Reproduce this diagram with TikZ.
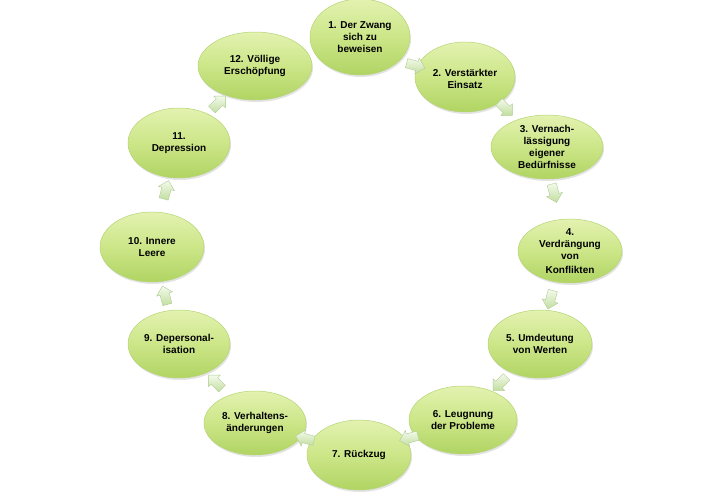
\documentclass[tikz,border=0pt]{standalone}
\usepackage{fontspec}
\setmainfont{Liberation Sans}
\usetikzlibrary{shapes.geometric,shapes.arrows,shadows,calc}
\definecolor{elltop}{HTML}{E3F2B0}
\definecolor{ellmid}{HTML}{CCE688}
\definecolor{ellbot}{HTML}{B0D463}
\definecolor{ellline}{HTML}{B4D474}
\definecolor{arrtop}{HTML}{F4FAEC}
\definecolor{arrbot}{HTML}{C2DEA0}
\definecolor{arrline}{HTML}{AFCB92}
\begin{document}
\begin{tikzpicture}[x=1pt,y=-1pt,
  stage/.style={ellipse, inner sep=0pt, top color=elltop, bottom color=ellbot, middle color=ellmid, draw=ellline, line width=0.5pt, drop shadow={shadow xshift=1pt, shadow yshift=-2pt, opacity=0.22}},
  txt/.style={font=\bfseries\fontsize{10}{12}\selectfont, align=center, text=black, inner sep=0pt},
  cyc/.style={single arrow, minimum height=19pt, inner xsep=0pt, inner ysep=4.5pt, single arrow head extend=3.5pt, single arrow head indent=0pt, top color=arrtop, bottom color=arrbot, draw=arrline, line width=0.4pt}
]
\useasboundingbox (0,0) rectangle (720,498);
\node[stage, minimum width=100pt, minimum height=76pt] (n1) at (360,37) {};
\node[stage, minimum width=100pt, minimum height=70pt] (n2) at (465,77) {};
\node[stage, minimum width=112pt, minimum height=64pt] (n3) at (547,147) {};
\node[stage, minimum width=104pt, minimum height=64pt] (n4) at (570,251) {};
\node[stage, minimum width=104pt, minimum height=68pt] (n5) at (540,344) {};
\node[stage, minimum width=108pt, minimum height=68pt] (n6) at (463,420) {};
\node[stage, minimum width=104pt, minimum height=70pt] (n7) at (359,455) {};
\node[stage, minimum width=102pt, minimum height=64pt] (n8) at (255,423) {};
\node[stage, minimum width=102pt, minimum height=68pt] (n9) at (179,344) {};
\node[stage, minimum width=104pt, minimum height=70pt] (n10) at (152,247) {};
\node[stage, minimum width=102pt, minimum height=70pt] (n11) at (179,143) {};
\node[stage, minimum width=114pt, minimum height=68pt] (n12) at (255,66) {};

\node[txt] (t1) at (n1) {1. Der Zwang\\sich zu\\beweisen};
\node[txt] (t2) at ($(n2)+(0,2)$) {2. Verstärkter\\Einsatz};
\node[txt] (t3) at (n3) {3. Vernach-\\lässigung\\eigener\\Bedürfnisse};
\node[txt] (t4) at (n4) {4.\\Verdrängung\\von\\[2pt]Konflikten};
\node[txt] (t5) at (n5) {5. Umdeutung\\von Werten};
\node[txt] (t6) at (n6) {6. Leugnung\\der Probleme};
\node[txt] (t7) at (n7) {7. Rückzug};
\node[txt] (t8) at (n8) {8. Verhaltens-\\änderungen};
\node[txt] (t9) at (n9) {9. Depersonal-\\isation};
\node[txt] (t10) at (n10) {10. Innere\\Leere};
\node[txt] (t11) at (n11) {11.\\Depression};
\node[txt] (t12) at (n12) {12. Völlige\\Erschöpfung};

\node[cyc, rotate=-15] (a1) at ($(n1)!0.5!(n2)+(1,8)$) {};
\node[cyc, rotate=-45] (a2) at ($(n2)!0.5!(n3)+(-2,-5)$) {};
\node[cyc, rotate=-75] (a3) at ($(n3)!0.5!(n4)+(-5,-8)$) {};
\node[cyc, rotate=-105] (a4) at ($(n4)!0.5!(n5)+(-4,0)$) {};
\node[cyc, rotate=-135] (a5) at ($(n5)!0.5!(n6)$) {};
\node[cyc, rotate=-165] (a6) at ($(n6)!0.5!(n7)$) {};
\node[cyc, rotate=-195] (a7) at ($(n7)!0.5!(n8)$) {};
\node[cyc, rotate=-225] (a8) at ($(n8)!0.5!(n9)$) {};
\node[cyc, rotate=-255] (a9) at ($(n9)!0.5!(n10)+(0,2)$) {};
\node[cyc, rotate=-285] (a10) at ($(n10)!0.5!(n11)+(0,-3)$) {};
\node[cyc, rotate=-315] (a11) at ($(n11)!0.5!(n12)$) {};
\end{tikzpicture}
\end{document}
